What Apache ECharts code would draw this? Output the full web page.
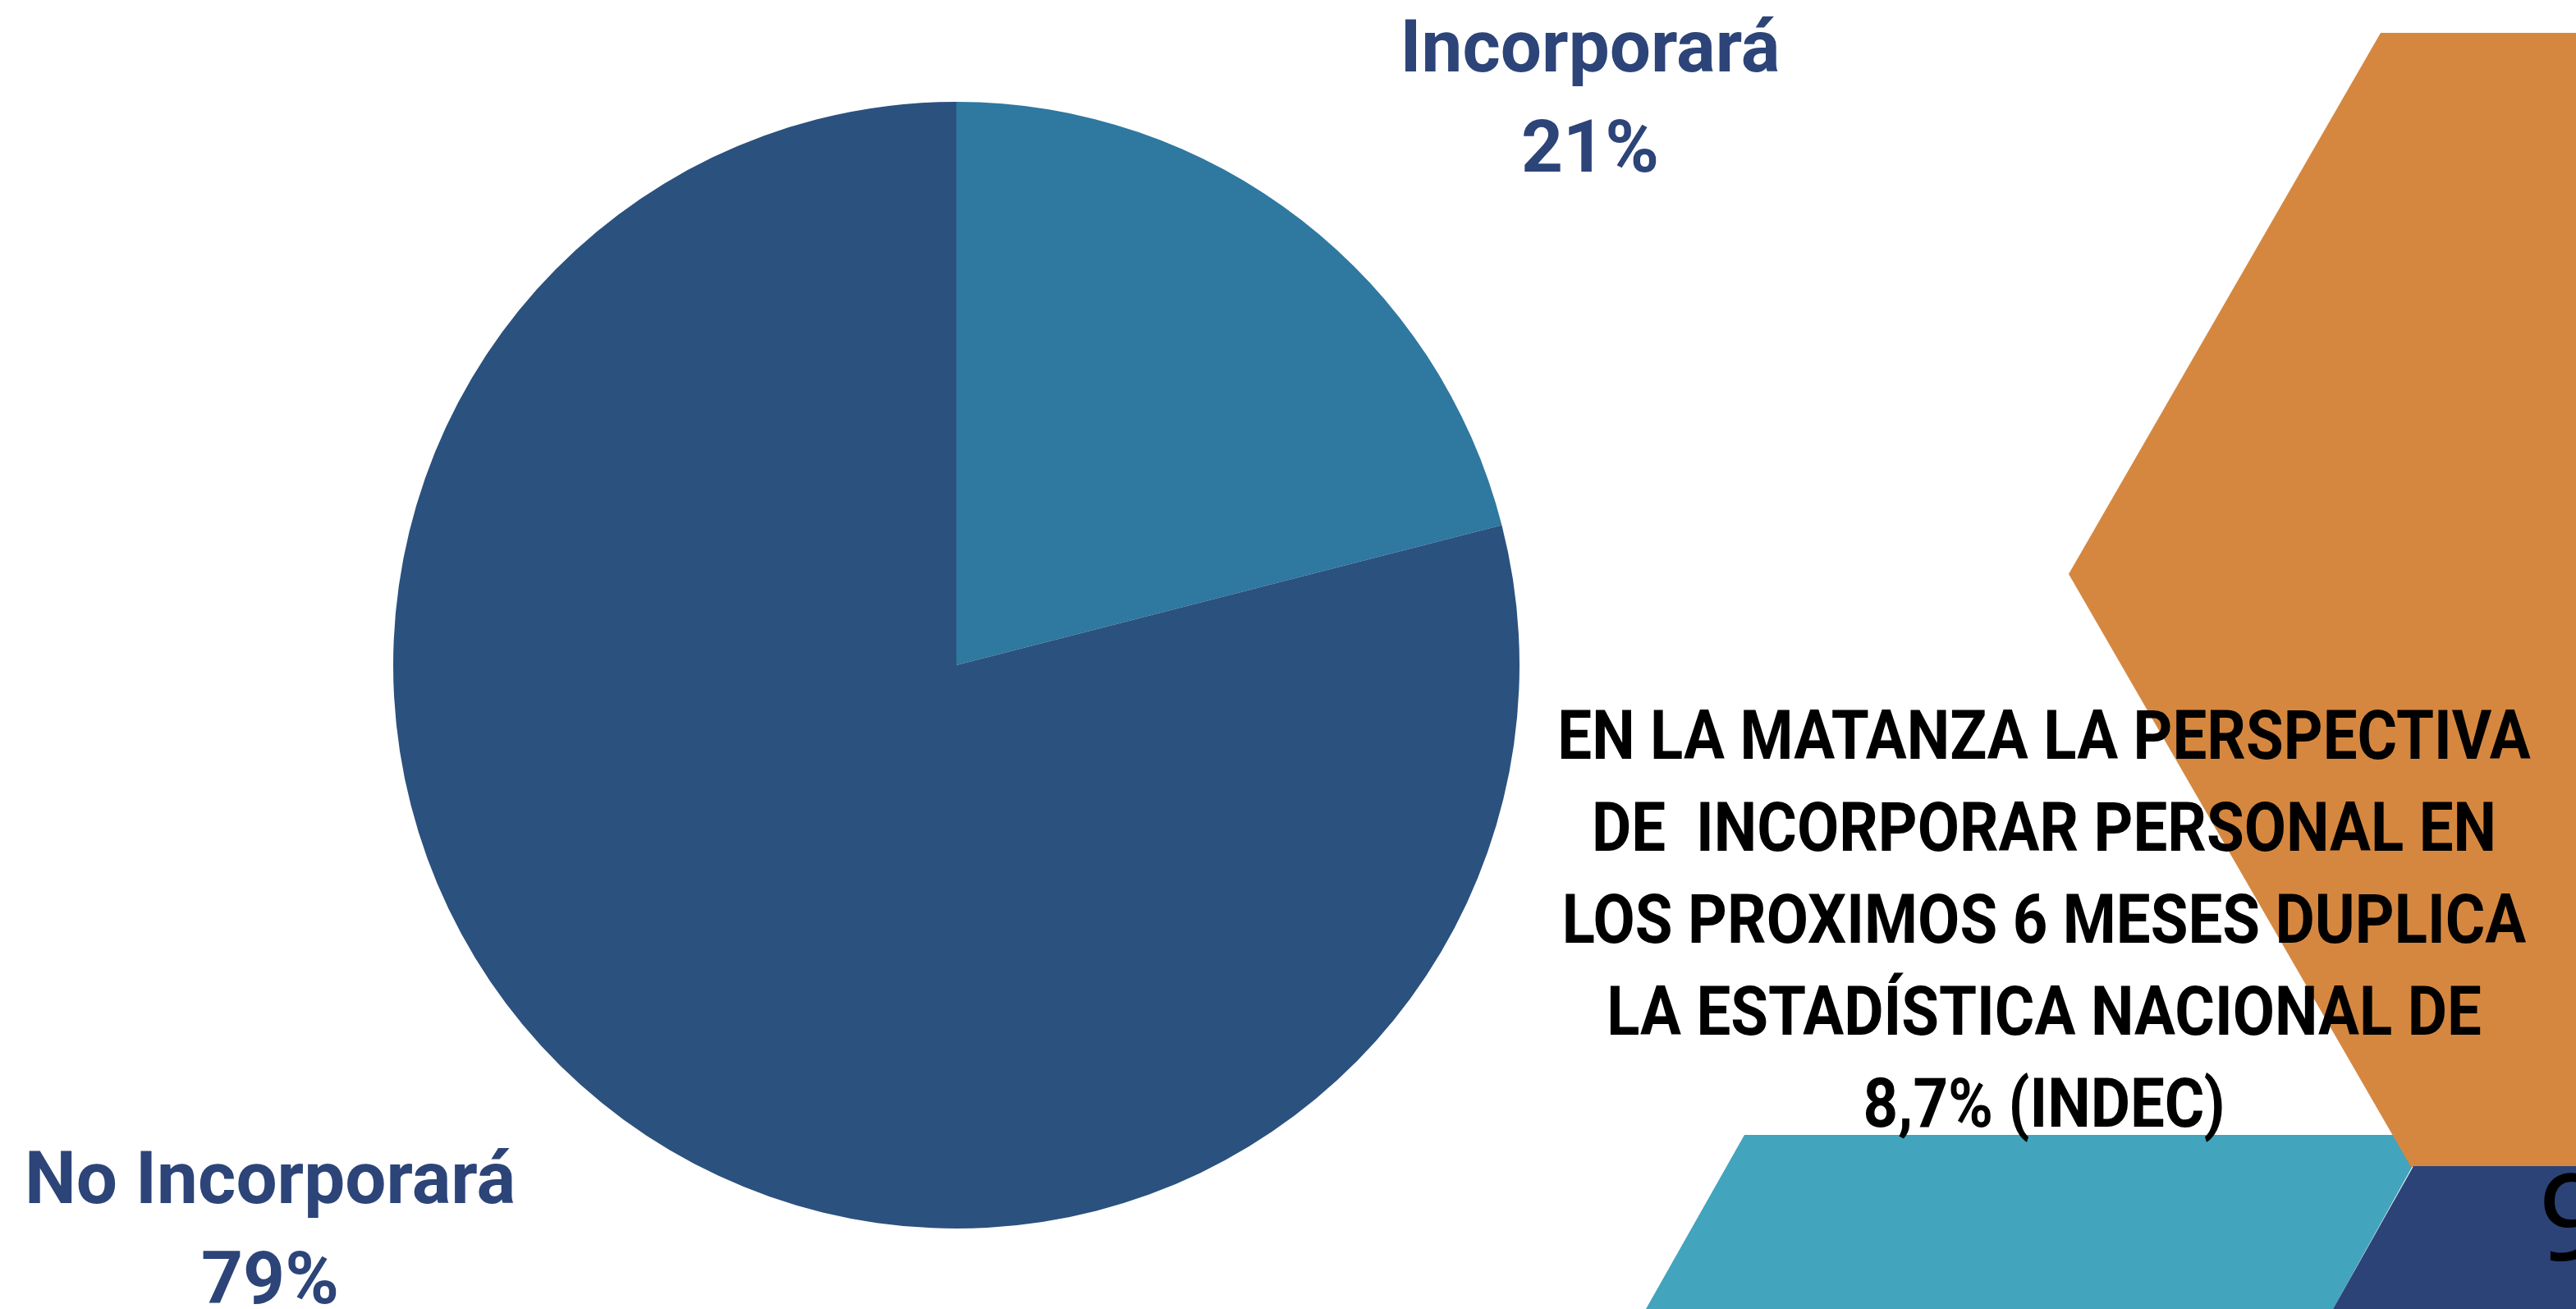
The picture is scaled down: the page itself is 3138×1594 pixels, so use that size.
<!DOCTYPE html>
<html>
<head>
<meta charset="utf-8">
<script src="https://cdn.jsdelivr.net/npm/echarts@6/dist/echarts.min.js"></script>
<style>
  html, body { margin: 0; padding: 0; background: #fff; }
  #chart { width: 3138px; height: 1594px; }
</style>
</head>
<body>
<div id="chart"></div>
<script>
const categories = ['Incorporará', 'No Incorporará']
const values = [21, 79]
const sliceColors = ['#2f78a0', '#2b517e']

const noteLines = [
  'EN LA MATANZA LA PERSPECTIVA',
  'DE  INCORPORAR PERSONAL EN',
  'LOS PROXIMOS 6 MESES DUPLICA',
  'LA ESTADÍSTICA NACIONAL DE',
  '8,7% (INDEC)'
]

// where each slice label sits (centre of the two-line block)
const labelPos = [
  [1937, 126],
  [329, 1504]
]

const chart = echarts.init(document.getElementById('chart'))

const option = {
  backgroundColor: '#ffffff',
  animation: false,

  graphic: [
    {
      type: 'polygon',
      z: 1,
      shape: { points: [[2125, 1382], [2960, 1382], [2842, 1594], [2005, 1594]] },
      style: { fill: '#42a4bd' }
    },
    {
      type: 'polygon',
      z: 2,
      shape: { points: [[2900, 40], [3138, 40], [3138, 1421], [2937, 1421], [2520, 699]] },
      style: { fill: '#d6873f' }
    },
    {
      type: 'polygon',
      z: 3,
      shape: { points: [[2940, 1420], [3138, 1420], [3138, 1594], [2842, 1594]] },
      style: { fill: '#2c4378' }
    },
    {
      type: 'text',
      z: 4,
      left: 3092,
      top: 1420,
      style: {
        text: '9',
        fill: '#000',
        font: '400 146px "Noto Sans"'
      }
    },
    {
      type: 'text',
      z: 10,
      x: 2490,
      y: 1127,
      scaleX: 0.885,
      style: {
        text: noteLines.join('\n'),
        fill: '#000',
        font: 'bold 84px Roboto, sans-serif',
        lineHeight: 112,
        align: 'center',
        verticalAlign: 'middle'
      }
    }
  ],

  series: [
    {
      type: 'pie',
      center: [1165, 810],
      radius: 686,
      startAngle: 90,
      clockwise: true,
      percentPrecision: 0,
      silent: true,
      data: categories.map((name, i) => ({
        name,
        value: values[i],
        itemStyle: { color: sliceColors[i] }
      })),
      label: {
        show: true,
        position: 'outside',
        formatter: '{b}\n{d}%',
        color: '#2c4478',
        fontFamily: 'Roboto',
        fontWeight: 'bold',
        fontSize: 89,
        lineHeight: 122,
        align: 'center'
      },
      labelLine: { show: false },
      labelLayout: (params) => ({
        x: labelPos[params.dataIndex][0],
        y: labelPos[params.dataIndex][1],
        align: 'center',
        verticalAlign: 'middle'
      })
    }
  ]
}

chart.setOption(option)
</script>
</body>
</html>
